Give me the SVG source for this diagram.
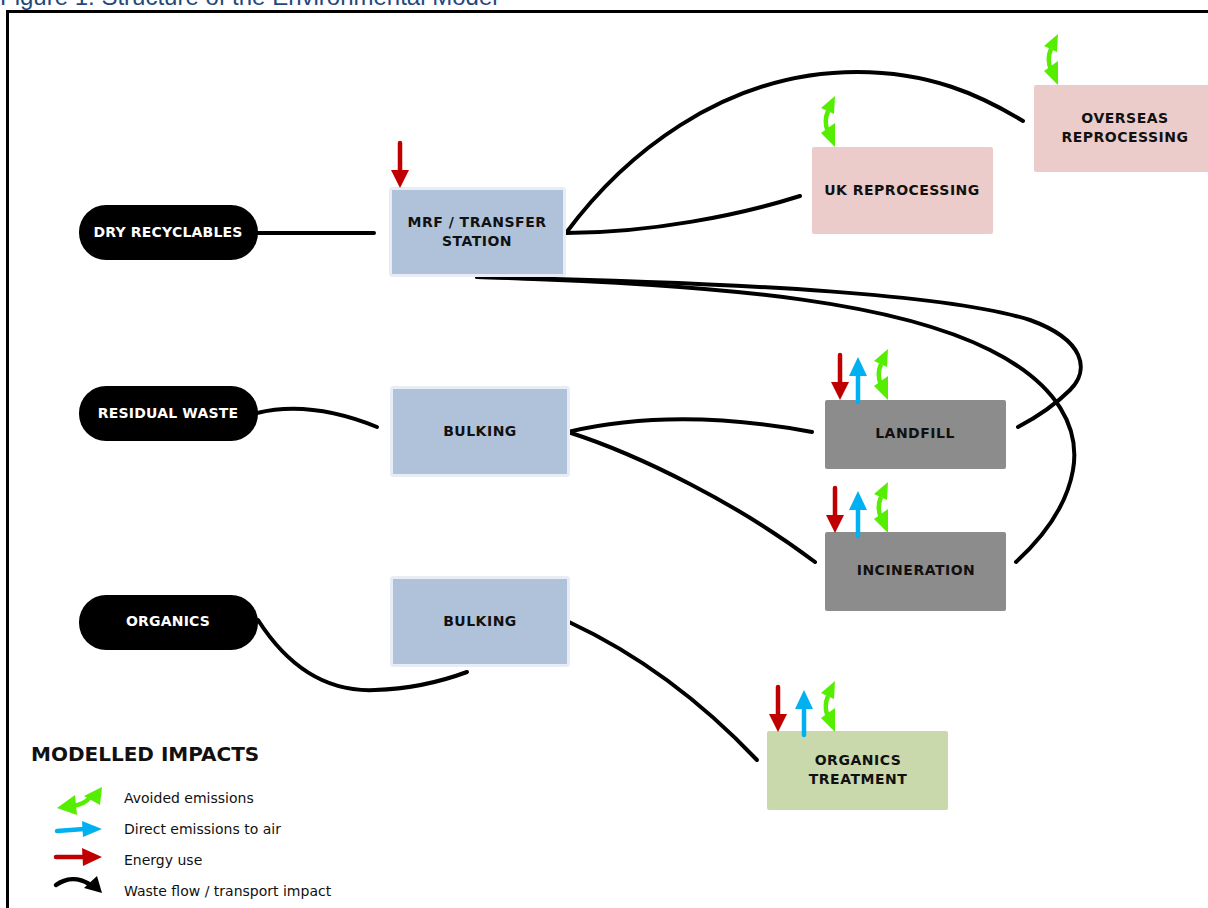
<svg xmlns="http://www.w3.org/2000/svg" xmlns:xlink="http://www.w3.org/1999/xlink" width="1208" height="908" viewBox="0 0 1208 908">
<style>
.src{fill:#000}
.srct{fill:#fff;font-family:"DejaVu Sans",Verdana,sans-serif;font-weight:bold;font-size:14px;text-anchor:middle;letter-spacing:0.2px}
.lbl{fill:#111;font-family:"DejaVu Sans",Verdana,sans-serif;font-weight:bold;font-size:14px;text-anchor:middle;letter-spacing:0.5px}
.blue{fill:#b0c2da;stroke:#e8edf5;stroke-width:3}
.pink{fill:#ecccca}
.gray{fill:#8c8c8c}
.green{fill:#cad9ab}
.flow{fill:none;stroke:#000;stroke-width:4;stroke-linecap:round}
.leg{fill:#111;font-family:"DejaVu Sans",Verdana,sans-serif;font-size:14px}
</style>
<defs>
<g id="red-down"><line x1="0" y1="0" x2="0" y2="30" stroke="#c00000" stroke-width="4.5" stroke-linecap="round"/><polygon points="-9,27 9,27 0,45" fill="#c00000"/></g>
<g id="blue-up"><line x1="0" y1="16" x2="0" y2="45" stroke="#00b0f0" stroke-width="4.5" stroke-linecap="round"/><polygon points="0,0 -9,19 9,19" fill="#00b0f0"/></g>
<g id="green-av"><polygon points="0,0 -14,12 -1,18" fill="#55ee00"/><path d="M-7,15 C-10,22 -10,29 -7,36" fill="none" stroke="#55ee00" stroke-width="4.5"/><polygon points="0,27 -14,37 0,51" fill="#55ee00"/></g>
</defs>
<rect x="0" y="0" width="1208" height="908" fill="#fff"/>
<text x="0" y="5" font-family="'Liberation Sans',Arial,sans-serif" font-size="24" fill="#1f497d">Figure 1: Structure of the Environmental Model</text>
<rect x="7.5" y="11.5" width="1215" height="915" fill="none" stroke="#000" stroke-width="3"/>

<g id="connectors">
<path class="flow" d="M258,233 L374,233"/>
<path class="flow" d="M566,233 C650,233 740,215 800,196"/>
<path class="flow" d="M566,233 C620,160 720,72 857,72 C930,72 980,95 1023,121"/>
<path class="flow" d="M477,277 C760,283 950,295 1030,320 C1085,340 1090,370 1070,390 C1055,405 1035,418 1018,427"/>
<path class="flow" d="M477,277 C750,285 900,305 990,350 C1060,385 1080,430 1073,470 C1066,510 1040,540 1016,562"/>
<path class="flow" d="M257,413 C290,405 330,408 377,427"/>
<path class="flow" d="M568,432 C640,415 720,415 812,432"/>
<path class="flow" d="M568,432 C640,455 740,505 815,562"/>
<path class="flow" d="M258,620 C290,670 330,692 375,690 C410,689 440,682 467,672"/>
<path class="flow" d="M569,622 C640,655 700,700 757,760"/>
</g>

<g id="dry-recyclables"><rect class="src" x="79" y="205" width="179" height="55" rx="27"/><text class="srct" x="168" y="237">DRY RECYCLABLES</text></g>
<g id="residual-waste"><rect class="src" x="79" y="386" width="179" height="55" rx="27"/><text class="srct" x="168" y="418">RESIDUAL WASTE</text></g>
<g id="organics"><rect class="src" x="79" y="595" width="179" height="55" rx="27"/><text class="srct" x="168" y="626">ORGANICS</text></g>

<g id="mrf"><rect class="blue" x="390.5" y="188.5" width="174" height="87" rx="2"/><text class="lbl" x="477" y="227">MRF / TRANSFER</text><text class="lbl" x="477" y="246">STATION</text><use href="#red-down" x="400" y="143"/></g>
<g id="bulking-1"><rect class="blue" x="391.5" y="387.5" width="177" height="88" rx="2"/><text class="lbl" x="480" y="436">BULKING</text></g>
<g id="bulking-2"><rect class="blue" x="391.5" y="577.5" width="177" height="88" rx="2"/><text class="lbl" x="480" y="626">BULKING</text></g>

<g id="uk-reprocessing"><rect class="pink" x="812" y="147" width="181" height="87" rx="2"/><text class="lbl" x="902" y="195">UK REPROCESSING</text><use href="#green-av" x="835" y="96"/></g>
<g id="overseas-reprocessing"><rect class="pink" x="1034" y="85" width="180" height="87" rx="2"/><text class="lbl" x="1125" y="123">OVERSEAS</text><text class="lbl" x="1125" y="142">REPROCESSING</text><use href="#green-av" x="1058" y="34"/></g>
<g id="landfill"><rect class="gray" x="825" y="400" width="181" height="69" rx="2"/><text class="lbl" x="915" y="438">LANDFILL</text><use href="#red-down" x="840" y="355"/><use href="#blue-up" x="858" y="357"/><use href="#green-av" x="888" y="349"/></g>
<g id="incineration"><rect class="gray" x="825" y="532" width="181" height="79" rx="2"/><text class="lbl" x="916" y="575">INCINERATION</text><use href="#red-down" x="835" y="488"/><use href="#blue-up" x="858" y="491"/><use href="#green-av" x="888" y="482"/></g>
<g id="organics-treatment"><rect class="green" x="767" y="731" width="181" height="79" rx="2"/><text class="lbl" x="858" y="765">ORGANICS</text><text class="lbl" x="858" y="784">TREATMENT</text><use href="#red-down" x="778" y="687"/><use href="#blue-up" x="804" y="690"/><use href="#green-av" x="835" y="681"/></g>

<g id="legend">
<text x="31" y="761" font-family="'DejaVu Sans',Verdana,sans-serif" font-weight="bold" font-size="20" fill="#111">MODELLED IMPACTS</text>
<polygon points="57,808 75,795 77,815" fill="#55ee00"/>
<path d="M72,806 C80,805 86,803 90,797" fill="none" stroke="#55ee00" stroke-width="4.5"/>
<polygon points="102,787 100,805 84,796" fill="#55ee00"/>
<text class="leg" x="124" y="803">Avoided emissions</text>
<path d="M57,831 L84,829" fill="none" stroke="#00b0f0" stroke-width="4.5" stroke-linecap="round"/>
<polygon points="82,821 102,829 83,837" fill="#00b0f0"/>
<text class="leg" x="124" y="834">Direct emissions to air</text>
<path d="M56,857 L84,857" fill="none" stroke="#c00000" stroke-width="4.5" stroke-linecap="round"/>
<polygon points="82,848 102,857 83,866" fill="#c00000"/>
<text class="leg" x="124" y="865">Energy use</text>
<path d="M56,885 C66,878 78,877 89,884" fill="none" stroke="#000" stroke-width="4.5" stroke-linecap="round"/>
<polygon points="84,888 97,876 102,893" fill="#000"/>
<text class="leg" x="124" y="896">Waste flow / transport impact</text>
</g>
</svg>
